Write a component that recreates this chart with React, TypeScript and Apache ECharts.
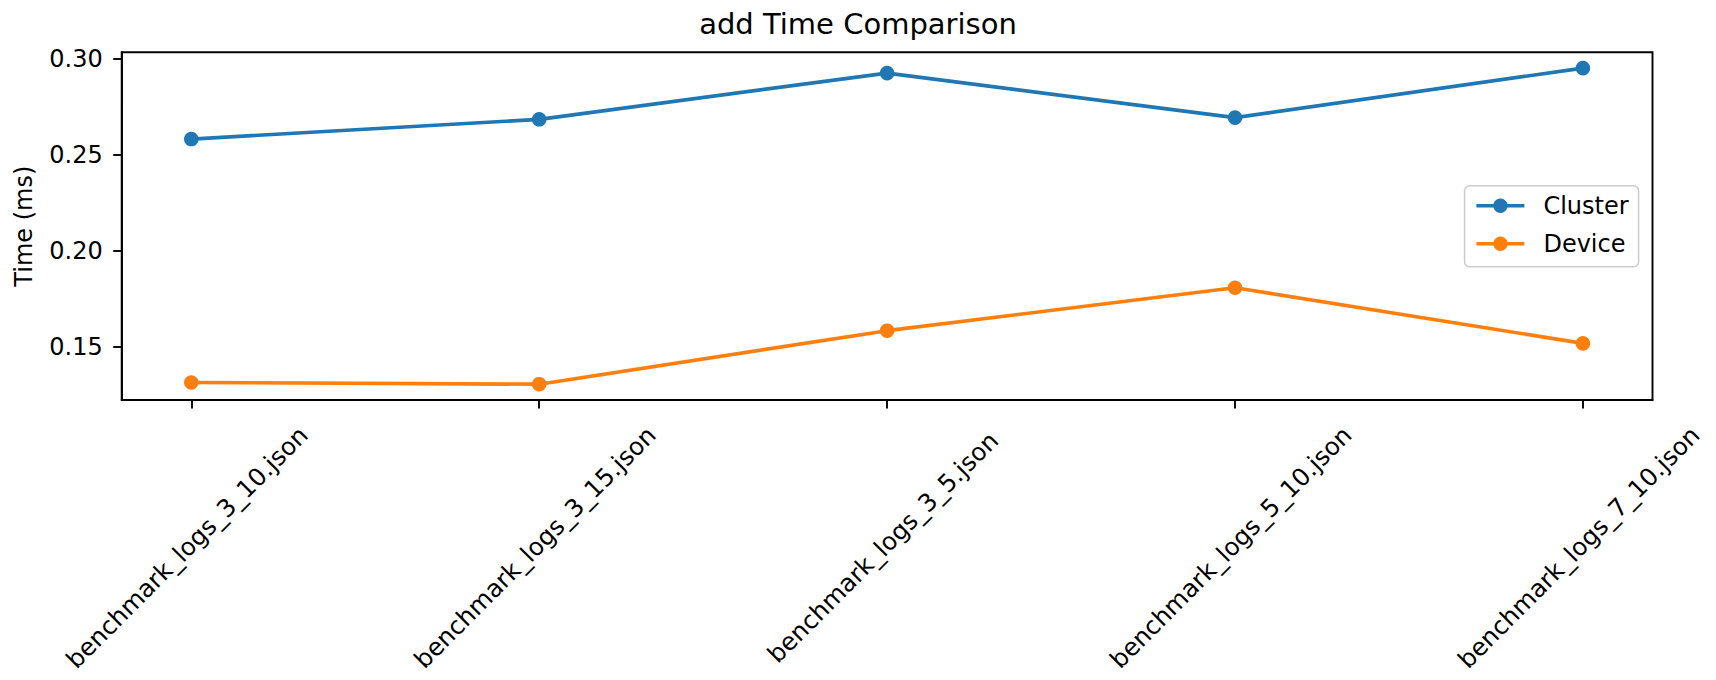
import React, { useEffect, useRef } from 'react';
import * as echarts from 'echarts';

const categories = [
  'benchmark_logs_3_10.json',
  'benchmark_logs_3_15.json',
  'benchmark_logs_3_5.json',
  'benchmark_logs_5_10.json',
  'benchmark_logs_7_10.json',
];
const clusterTimes = [0.2583, 0.2686, 0.2927, 0.2695, 0.2953];
const deviceTimes = [0.1314, 0.1305, 0.1584, 0.1808, 0.1518];
const yTicks = [0.15, 0.2, 0.25, 0.3];

const FONT = '"DejaVu Sans", sans-serif';

const App: React.FC = () => {
  const chartRef = useRef<HTMLDivElement>(null);

  useEffect(() => {
    if (!chartRef.current) return;
    const chart = echarts.init(chartRef.current, null, { renderer: 'svg' });

    // matplotlib style auto margins (5% of data span)
    const all = [...clusterTimes, ...deviceTimes];
    const lo = Math.min(...all);
    const hi = Math.max(...all);
    const pad = (hi - lo) * 0.05;
    const xPad = (categories.length - 1) * 0.05;
    const xIdx = categories.map((_, i) => i);

    chart.setOption({
      animation: false,
      textStyle: { fontFamily: FONT },
      title: {
        text: 'add Time Comparison',
        left: 'center',
        top: 9,
        padding: [0, 0, 0, 58],
        textStyle: { fontFamily: FONT, fontSize: 29, fontWeight: 'normal', color: '#000' },
      },
      grid: {
        left: 121.7,
        right: 63.5,
        top: 52.3,
        bottom: 280,
        show: true,
        borderColor: '#000',
        borderWidth: 1.9,
      },
      legend: {
        orient: 'vertical',
        left: 1464.6,
        top: 185.7,
        padding: [7, 10, 10, 10],
        itemWidth: 48,
        itemHeight: 18,
        itemGap: 12,
        selectedMode: false,
        backgroundColor: 'rgba(255,255,255,0.8)',
        borderColor: '#cccccc',
        borderWidth: 1.5,
        borderRadius: 5,
        lineStyle: { width: 3.65 },
        textStyle: { fontFamily: FONT, fontSize: 24, color: '#000', lineHeight: 26, padding: [0, 0, 0, 14] },
        data: ['Cluster', 'Device'],
      },
      xAxis: {
        type: 'value',
        min: -xPad,
        max: categories.length - 1 + xPad,
        splitLine: { show: false },
        axisLine: { onZero: false, lineStyle: { color: '#000', width: 1.9 } },
        axisTick: { show: true, customValues: xIdx, length: 8.5, lineStyle: { color: '#000', width: 1.9 } },
        axisLabel: {
          customValues: xIdx,
          rotate: 45,
          align: 'center',
          verticalAlign: 'middle',
          margin: 143,
          padding: [0, 12, 0, 0],
          fontFamily: FONT,
          fontSize: 24.5,
          color: '#000',
          formatter: (v: number) => categories[Math.round(v)] ?? '',
        },
      },
      yAxis: {
        type: 'value',
        min: lo - pad,
        max: hi + pad,
        name: 'Time (ms)',
        nameLocation: 'middle',
        nameGap: 86,
        nameTextStyle: { fontFamily: FONT, fontSize: 24, color: '#000' },
        splitLine: { show: false },
        axisLine: { show: true, onZero: false, lineStyle: { color: '#000', width: 1.9 } },
        axisTick: { show: true, customValues: yTicks, length: 8.5, lineStyle: { color: '#000', width: 1.9 } },
        axisLabel: {
          customValues: yTicks,
          margin: 19,
          fontFamily: FONT,
          fontSize: 24,
          color: '#000',
          formatter: (v: number) => v.toFixed(2),
        },
      },
      series: [
        {
          name: 'Cluster',
          type: 'line',
          data: clusterTimes.map((v, i) => [i, v]),
          symbol: 'circle',
          symbolSize: 14.6,
          color: '#1f77b4',
          lineStyle: { width: 3.65, color: '#1f77b4' },
          itemStyle: { color: '#1f77b4' },
        },
        {
          name: 'Device',
          type: 'line',
          data: deviceTimes.map((v, i) => [i, v]),
          symbol: 'circle',
          symbolSize: 14.6,
          color: '#ff7f0e',
          lineStyle: { width: 3.65, color: '#ff7f0e' },
          itemStyle: { color: '#ff7f0e' },
        },
      ],
    });

    return () => chart.dispose();
  }, []);

  return (
    <div
      ref={chartRef}
      style={{ position: 'absolute', left: 0, top: 0, width: 1716, height: 680, background: '#fff' }}
    />
  );
};

export default App;
